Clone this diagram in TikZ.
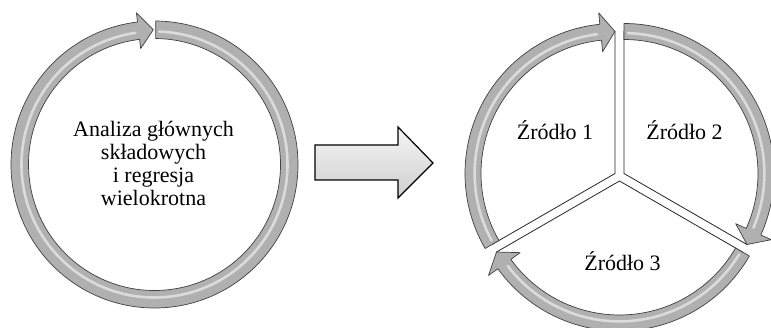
\documentclass[tikz,border=0pt]{standalone}
\usepackage{fontspec}
\setmainfont{Liberation Serif}
\tikzset{
  band/.style={fill=gray!62, draw=black!75, line width=0.7pt, line join=round},
  bandhl/.style={draw=white, line width=2.6pt, opacity=0.55, line cap=round},
  wedgeshape/.style={fill=white, draw=black!85, line width=0.8pt},
  lbl/.style={font=\fontsize{22}{22.7}\selectfont, inner sep=0pt},
  bigarrow/.style={top color=gray!8, bottom color=gray!38, draw=black, line width=1.2pt, line join=miter}
}
% #1 centre, #2 inner r, #3 outer r, #4 start angle, #5 head-base angle, #6 tip angle, #7 wing
\newcommand\ringarrow[7]{%
  \begin{scope}[shift={#1}]
    \pgfmathsetmacro\rarmid{(#2+#3)/2}
    \pgfmathsetmacro\rarwo{\rarmid+#7}
    \pgfmathsetmacro\rarwi{\rarmid-#7}
    \pgfmathsetmacro\rarhl{#2+0.4*(#3-#2)}
    \pgfmathsetmacro\rarsa{#4-1.5}
    \pgfmathsetmacro\rarea{#5+1.5}
    \path[band] (#4:#3) arc[start angle=#4, end angle=#5, radius=#3]
      -- (#5:\rarwo) -- (#6:\rarmid) -- (#5:\rarwi) -- (#5:#2)
      arc[start angle=#5, end angle=#4, radius=#2] -- cycle;
    \draw[bandhl] (\rarsa:\rarhl) arc[start angle=\rarsa, end angle=\rarea, radius=\rarhl];
  \end{scope}}
% #1 apex, #2 from angle, #3 to angle, #4 radius
\newcommand\sectorshape[4]{%
  \path[wedgeshape] #1 -- ++(#2:#4) arc[start angle=#2, end angle=#3, radius=#4] -- cycle;}
\begin{document}
\begin{tikzpicture}[x=1pt,y=1pt]
  \useasboundingbox[fill=white] (0,0) rectangle (771,327);

  % left cycle
  \ringarrow{(154.5,162.5)}{126}{143.5}{89.5}{-263.2}{-269.5}{18}
  \node[lbl, align=center] (analiza) at (153.5,163.5)
    {Analiza głównych\\składowych\\i regresja\\wielokrotna};

  % middle arrow
  \coordinate (ma) at (315,164);
  \path[bigarrow] (315,182) -- (398,182) -- (398,200) -- (433,164)
    -- (398,129) -- (398,147) -- (315,147) -- cycle;

  % right: three sectors
  \coordinate (c1) at (615,153.5);
  \coordinate (c2) at (624,153.5);
  \coordinate (c3) at (619.5,146);
  \sectorshape{(c1)}{90}{210}{142}
  \sectorshape{(c2)}{-30}{90}{142}
  \sectorshape{(c3)}{210}{330}{142}
  \ringarrow{(615,153.5)}{134}{150}{210}{95.8}{90}{19.5}
  \ringarrow{(624,153.5)}{134}{150}{90}{-24.2}{-30}{19.5}
  \ringarrow{(619.5,146)}{134}{150}{-30}{-144.2}{-150}{19.5}

  \node[lbl, anchor=base] (z1) at (555,187) {Źródło 1};
  \node[lbl, anchor=base] (z2) at (684.5,187) {Źródło 2};
  \node[lbl, anchor=base] (z3) at (622.5,57) {Źródło 3};
\end{tikzpicture}
\end{document}
